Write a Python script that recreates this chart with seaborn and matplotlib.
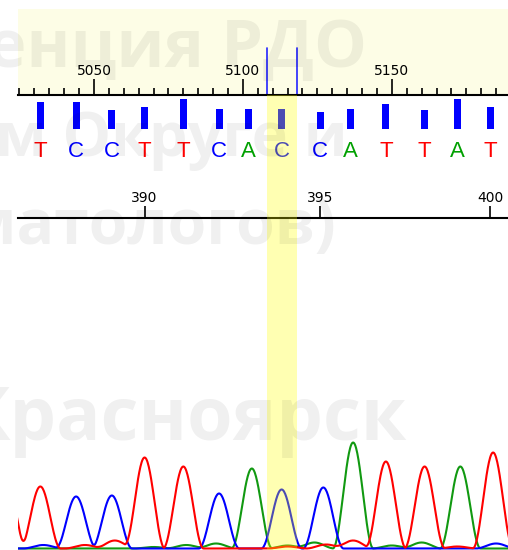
import numpy as np
import pandas as pd
import matplotlib
matplotlib.use("Agg")
import matplotlib.pyplot as plt
from matplotlib.ticker import MultipleLocator, FixedLocator, FixedFormatter
import seaborn as sns

# base calls in the visible window
base_calls = ["T", "C", "C", "T", "T", "C", "A", "C", "C", "A", "T", "T", "A", "T"]
base_scan = [5032, 5044, 5056, 5067, 5080, 5092, 5102, 5113, 5126, 5136, 5148, 5161, 5172, 5183]
base_quality = [27, 27, 19, 22, 30, 20, 20, 20, 17, 20, 25, 19, 30, 22]
base_numbers = list(range(387, 401))

# highlighted base (394) and cursor lines
selected_scan = (5108, 5118)

# chromatogram peaks per channel: scan position and signal height
t_peak_scan = [5020.5, 5032, 5047, 5057, 5067, 5080, 5115, 5128, 5137, 5148, 5161, 5172, 5184]
t_peak_height = [70, 62, 3.5, 8, 91, 82, 2, 4, 8, 87, 82, 2, 96]
c_peak_scan = [5033, 5044, 5056, 5092, 5113, 5127, 5185]
c_peak_height = [3.5, 52, 53, 55, 59, 61, 5]
a_peak_scan = [5070, 5081, 5091, 5103, 5115, 5124, 5137, 5150, 5160, 5173]
a_peak_height = [1.5, 3.5, 5, 80, 3, 6, 106, 3, 6, 82]

# slide watermark lines
watermark_lines = ["Конференция РДО", "Федеральном Округе и", "дерматологов)", "Красноярск"]

call_colors = {"T": "#ff0000", "C": "#0000ff", "A": "#00a000", "G": "#000000"}
trace_colors = {"T": "#ff0000", "C": "#0000ff", "A": "#119911"}

W, H = 508, 550
SCAN_LO, SCAN_HI = 5024.5, 5189.0
PEAK_HALF = 6.8


def px_box(x0, y0, x1, y1):
    """Axes rectangle from pixel edges (origin top-left)."""
    return [x0 / W, 1 - y1 / H, (x1 - x0) / W, (y1 - y0) / H]


def build_trace(grid, peaks, heights):
    y = np.zeros_like(grid)
    for p, h in zip(peaks, heights):
        d = np.abs(grid - p)
        y += np.where(d < PEAK_HALF, h * np.cos(np.pi * d / (2 * PEAK_HALF)) ** 2, 0.0)
    return y


sns.set_theme(style="white")
plt.rcParams["font.family"] = ["DejaVu Sans"]

fig = plt.figure(figsize=(W / 100, H / 100), dpi=100)
fig.patch.set_facecolor("white")

# scan ruler
ax_ruler = fig.add_axes(px_box(18, 9, 508, 95))
ax_ruler.set_facecolor("#fdfde6")
ax_ruler.set_xlim(SCAN_LO, SCAN_HI)
ax_ruler.set_ylim(0, 1)
for side in ["top", "left", "right"]:
    ax_ruler.spines[side].set_visible(False)
ax_ruler.spines["bottom"].set_color("black")
ax_ruler.spines["bottom"].set_linewidth(1.5)
ax_ruler.xaxis.set_major_locator(MultipleLocator(50))
ax_ruler.xaxis.set_minor_locator(MultipleLocator(5))
ax_ruler.tick_params(axis="x", which="major", direction="in", length=11.5, width=1.2,
                     color="black", pad=-22.6, labelsize=10, labelcolor="black", bottom=True)
ax_ruler.tick_params(axis="x", which="minor", direction="in", length=5.2, width=1.2,
                     color="black", bottom=True)
ax_ruler.set_yticks([])
for x in selected_scan:
    ax_ruler.axvline(x, ymin=0, ymax=(95 - 48) / 86, color="#2424ff", lw=1.2)

# quality bars
ax_bars = fig.add_axes(px_box(18, 95, 508, 129))
sns.barplot(x=base_scan, y=base_quality, native_scale=True, width=0.235,
            color="#0000ff", saturation=1, errorbar=None, linewidth=0, ax=ax_bars)
ax_bars.set_xlim(SCAN_LO, SCAN_HI)
ax_bars.set_ylim(0, 34)
ax_bars.axis("off")

# base call letters
ax_calls = fig.add_axes(px_box(18, 129, 508, 170))
ax_calls.set_xlim(SCAN_LO, SCAN_HI)
ax_calls.set_ylim(0, 1)
ax_calls.axis("off")
for x, b in zip(base_scan, base_calls):
    ax_calls.text(x, (170 - 157) / 41, b, ha="center", va="baseline", fontsize=16,
                  family="Liberation Sans", color=call_colors[b])

# base number ruler
ax_index = fig.add_axes(px_box(18, 170, 508, 218))
ax_index.set_facecolor("none")
ax_index.set_xlim(SCAN_LO, SCAN_HI)
for side in ["top", "left", "right"]:
    ax_index.spines[side].set_visible(False)
ax_index.spines["bottom"].set_color("black")
ax_index.spines["bottom"].set_linewidth(1.5)
tick_pos = [s for s, n in zip(base_scan, base_numbers) if n % 5 == 0]
tick_lab = [str(n) for n in base_numbers if n % 5 == 0]
ax_index.xaxis.set_major_locator(FixedLocator(tick_pos))
ax_index.xaxis.set_major_formatter(FixedFormatter(tick_lab))
ax_index.tick_params(axis="x", direction="in", length=8.6, width=1.2, color="black",
                     pad=-19.6, labelsize=10, labelcolor="black", bottom=True)
ax_index.set_yticks([])

# chromatogram traces
scan_grid = np.arange(5012, 5196, 0.2)
frames = []
for ch, pk, ht in [("T", t_peak_scan, t_peak_height),
                   ("C", c_peak_scan, c_peak_height),
                   ("A", a_peak_scan, a_peak_height)]:
    frames.append(pd.DataFrame({"scan": scan_grid,
                                "signal": build_trace(scan_grid, pk, ht),
                                "channel": ch}))
traces = pd.concat(frames, ignore_index=True)

ax_trace = fig.add_axes(px_box(18, 400, 508, 550))
ax_trace.set_facecolor("none")
sns.lineplot(data=traces, x="scan", y="signal", hue="channel", hue_order=["A", "C", "T"],
             palette=trace_colors, estimator=None, legend=False, linewidth=1.5, ax=ax_trace)
ax_trace.set_xlim(SCAN_LO, SCAN_HI)
ax_trace.set_ylim(-1.5, 148.5)
ax_trace.axis("off")

# highlight band over calls and traces
ax_hl = fig.add_axes(px_box(18, 95, 508, 550))
ax_hl.set_xlim(SCAN_LO, SCAN_HI)
ax_hl.set_ylim(0, 1)
ax_hl.axvspan(selected_scan[0], selected_scan[1], color="#ffff00", alpha=0.3, lw=0)
ax_hl.axis("off")
ax_hl.set_zorder(5)

# watermark
wm_right = [367, 348, 336, 407]
wm_base = [67, 156, 244, 440]
wm_size = [48, 44, 45, 53]
for txt, xr, yb, fs in zip(watermark_lines, wm_right, wm_base, wm_size):
    fig.text(xr / W, 1 - yb / H, txt, ha="right", va="baseline", fontsize=fs,
             fontweight="bold", family="Open Sans", color="black", alpha=0.06, zorder=10)

fig.savefig("out.png", dpi=100)
